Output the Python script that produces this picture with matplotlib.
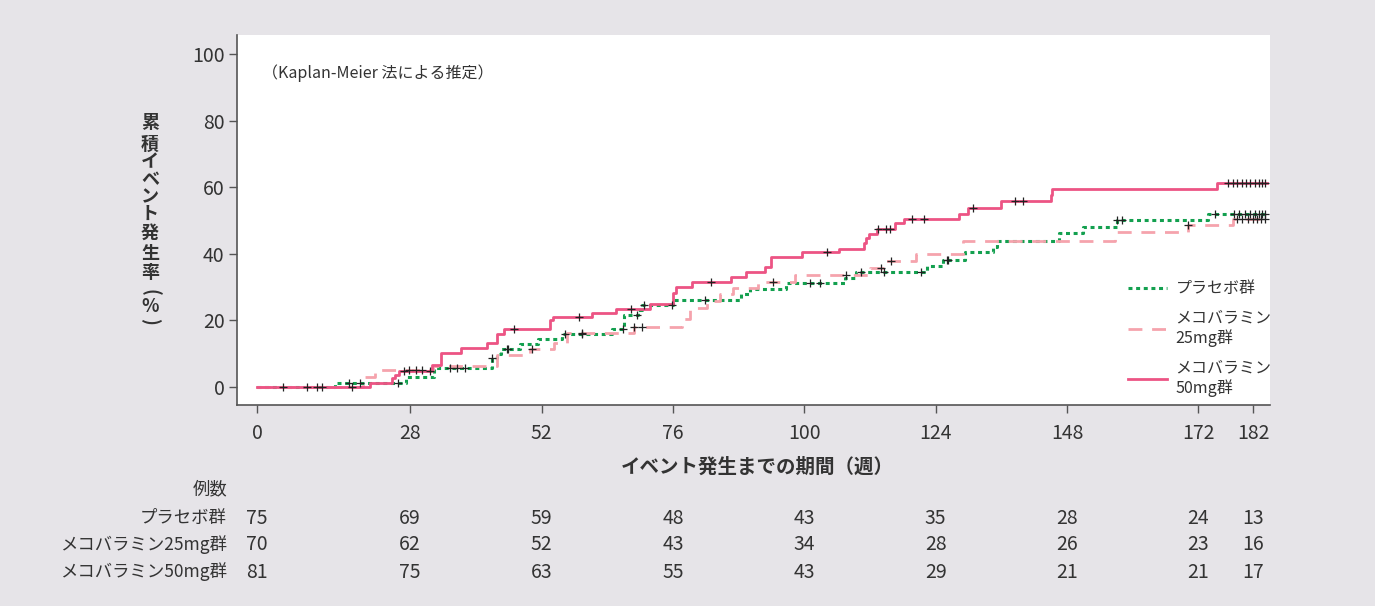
import numpy as np
import matplotlib
matplotlib.use("Agg")
import matplotlib.pyplot as plt
from matplotlib import transforms

plt.rcParams['font.family'] = ['Noto Sans CJK JP', 'DejaVu Sans']

# Kaplan-Meier cumulative incidence (%), step changes: week -> cumulative %
placebo_t = [0, 14.3, 27.3, 32.3, 42.9, 43.9, 44.5, 48.1, 51.4, 55.7, 64.8, 67.1, 69.7, 70.3,
             76.1, 88.5, 90.1, 96.6, 107.4, 109.4, 122.4, 125.4, 129.4, 134.5, 135.3, 146.6,
             151.0, 157.1, 173.8]
placebo_v = [0, 1.3, 3.1, 5.8, 8.6, 9.8, 11.3, 12.8, 14.3, 15.8, 17.3, 21.6, 23.1, 24.6,
             26.1, 27.9, 29.4, 31.1, 32.6, 34.5, 36.3, 38.1, 40.4, 42.1, 43.9, 46.1,
             48.1, 50.1, 52.1]
placebo_cens = [4.8, 9.1, 16.9, 18.9, 25.8, 35.3, 36.5, 38.1, 43.0, 45.7, 45.9, 56.3, 59.3,
                66.8, 69.4, 70.8, 75.8, 81.9, 101.0, 102.9, 110.4, 114.6, 121.4, 126.0, 126.3,
                157.1, 158.0, 175.1, 178.5, 179.5, 180.5, 181.5, 182.3, 183.0, 183.7, 184.2]

mg25_t = [0, 19.4, 21.6, 32.2, 43.8, 49.9, 54.2, 56.6, 68.8, 77.6, 79.1, 82.2, 84.6, 87.0,
          91.6, 98.3, 112.0, 114.9, 120.5, 129.0, 156.8, 170.2, 178.4]
mg25_v = [0, 3.1, 5.1, 6.3, 9.6, 11.3, 13.1, 16.1, 18.1, 20.3, 23.6, 25.8, 27.9, 29.6,
          31.6, 33.5, 35.6, 37.9, 39.9, 43.9, 46.4, 48.6, 50.6]
mg25_cens = [11.0, 27.8, 29.0, 30.1, 50.2, 59.3, 68.8, 70.3, 94.2, 107.6, 114.0, 115.8,
             170.2, 179.0, 180.0, 181.0, 182.0, 182.8, 183.5, 184.2]

mg50_t = [0, 20.6, 24.6, 25.3, 26.0, 31.9, 33.7, 37.3, 42.0, 43.8, 45.1, 53.5, 54.0, 61.3,
          65.6, 71.8, 76.1, 76.5, 79.5, 86.7, 89.3, 92.8, 94.0, 99.5, 106.4, 110.9, 111.2,
          111.8, 113.2, 116.6, 118.2, 128.2, 130.0, 136.0, 145.0, 145.3, 175.5]
mg50_v = [0, 1.3, 2.6, 3.6, 4.9, 6.6, 10.3, 11.8, 13.1, 15.8, 17.3, 20.1, 20.9, 22.3,
          23.4, 24.9, 28.1, 30.1, 31.6, 33.1, 34.6, 36.1, 38.9, 40.6, 41.4, 43.3, 44.6,
          45.9, 47.3, 49.1, 50.4, 52.1, 53.9, 55.9, 57.6, 59.6, 61.4]
mg50_cens = [11.8, 17.3, 26.9, 31.6, 47.0, 58.8, 68.3, 83.0, 104.1, 113.5, 115.0, 115.7,
             119.6, 121.8, 130.9, 138.5, 139.9, 177.5, 178.3, 179.1, 179.9, 180.7, 181.5,
             182.3, 183.0, 183.7, 184.2]

end_week = 184.5

x_ticks = [0, 28, 52, 76, 100, 124, 148, 172, 182]
y_ticks = [0, 20, 40, 60, 80, 100]

group_labels = ['プラセボ群', 'メコバラミン25mg群', 'メコバラミン50mg群']
legend_labels = ['プラセボ群', 'メコバラミン\n25mg群', 'メコバラミン\n50mg群']
at_risk = [
    [75, 69, 59, 48, 43, 35, 28, 24, 13],
    [70, 62, 52, 43, 34, 28, 26, 23, 16],
    [81, 75, 63, 55, 43, 29, 21, 21, 17],
]

bg = '#e6e4e8'
green = '#13a04f'
pink = '#f5a3ad'
red = '#ec5484'
txt = '#333333'

W, H = 1375, 606
fig = plt.figure(figsize=(W / 100, H / 100), dpi=100, facecolor=bg)
ax = fig.add_axes([237 / W, 1 - 405 / H, (1270 - 237) / W, (405 - 35) / H])
ax.set_facecolor('white')


def km_step(ax, t, v, **kw):
    tt = list(t) + [end_week]
    vv = list(v) + [v[-1]]
    return ax.step(tt, vv, where='post', **kw)[0]


def cens_y(t, v, c):
    idx = np.searchsorted(np.asarray(t), np.asarray(c), side='right') - 1
    return np.asarray(v)[idx]


series = [
    (placebo_t, placebo_v, placebo_cens, dict(color=green, lw=2.2, linestyle=(0, (1.3, 1.2)))),
    (mg25_t, mg25_v, mg25_cens, dict(color=pink, lw=2.0, linestyle=(0, (5, 3.5)))),
    (mg50_t, mg50_v, mg50_cens, dict(color=red, lw=2.0, linestyle='-')),
]

handles = []
for t, v, c, style in series:
    h = km_step(ax, t, v, zorder=2, **style)
    handles.append(h)

for t, v, c, style in series:
    ax.plot(c, cens_y(t, v, c), linestyle='none', marker='+', markersize=6,
            markeredgewidth=0.9, color='#222222', zorder=3)

ax.set_xlim(-3.65, 185.1)
ax.set_ylim(-5.4, 105.7)
ax.set_xticks(x_ticks)
ax.set_yticks(y_ticks)
ax.tick_params(axis='both', direction='out', length=6, width=1, color='#555555',
               labelsize=14, labelcolor=txt)
ax.tick_params(axis='x', pad=7)
ax.tick_params(axis='y', pad=3)
for s in ['top', 'right']:
    ax.spines[s].set_visible(False)
for s in ['left', 'bottom']:
    ax.spines[s].set_color('#555555')
    ax.spines[s].set_linewidth(1.2)

fig.text(262 / W, 1 - 73 / H, '（Kaplan-Meier 法による推定）', fontsize=11.5, color=txt,
         ha='left', va='center')

leg = ax.legend(handles, legend_labels, loc='upper left',
                bbox_to_anchor=(1114 / W, 1 - 266 / H), bbox_transform=fig.transFigure,
                frameon=False, fontsize=11.5, handlelength=2.4, labelspacing=0.75,
                handletextpad=0.55)
for tx in leg.get_texts():
    tx.set_color(txt)

# axis titles
fig.text(757 / W, 1 - 467 / H, 'イベント発生までの期間（週）', fontsize=14,
         fontweight='bold', color=txt, ha='center', va='center')

# vertical y-axis title, one glyph per row; brackets turned to their vertical form
ylab = ['累', '積', 'イ', 'ベ', 'ン', 'ト', '発', '生', '率', '(', '%', ')']
advance = {'累': 22, '積': 18, 'イ': 18, 'ベ': 17, 'ン': 17, 'ト': 19, '発': 20, '生': 20,
           '率': 19, '(': 15, '%': 14}
ypix = 122
for ch in ylab:
    rot = -90 if ch in '()' else 0
    fig.text(150 / W, 1 - ypix / H, ch, fontsize=13, fontweight='bold', color=txt,
             ha='center', va='center', rotation=rot)
    ypix += advance.get(ch, 0)

# number-at-risk table
trans = transforms.blended_transform_factory(ax.transData, fig.transFigure)
fig.text(227 / W, 1 - 489 / H, '例数', fontsize=12.5, color=txt, ha='right', va='center')
row_y = [518, 545, 572]
for lab, counts, yp in zip(group_labels, at_risk, row_y):
    fy = 1 - yp / H
    fig.text(227 / W, fy, lab, fontsize=12.5, color=txt, ha='right', va='center')
    for xt, n in zip(x_ticks, counts):
        ax.text(xt, fy, str(n), transform=trans, fontsize=14, color=txt,
                ha='center', va='center', clip_on=False)

fig.savefig('out.png', dpi=100, facecolor=bg)
